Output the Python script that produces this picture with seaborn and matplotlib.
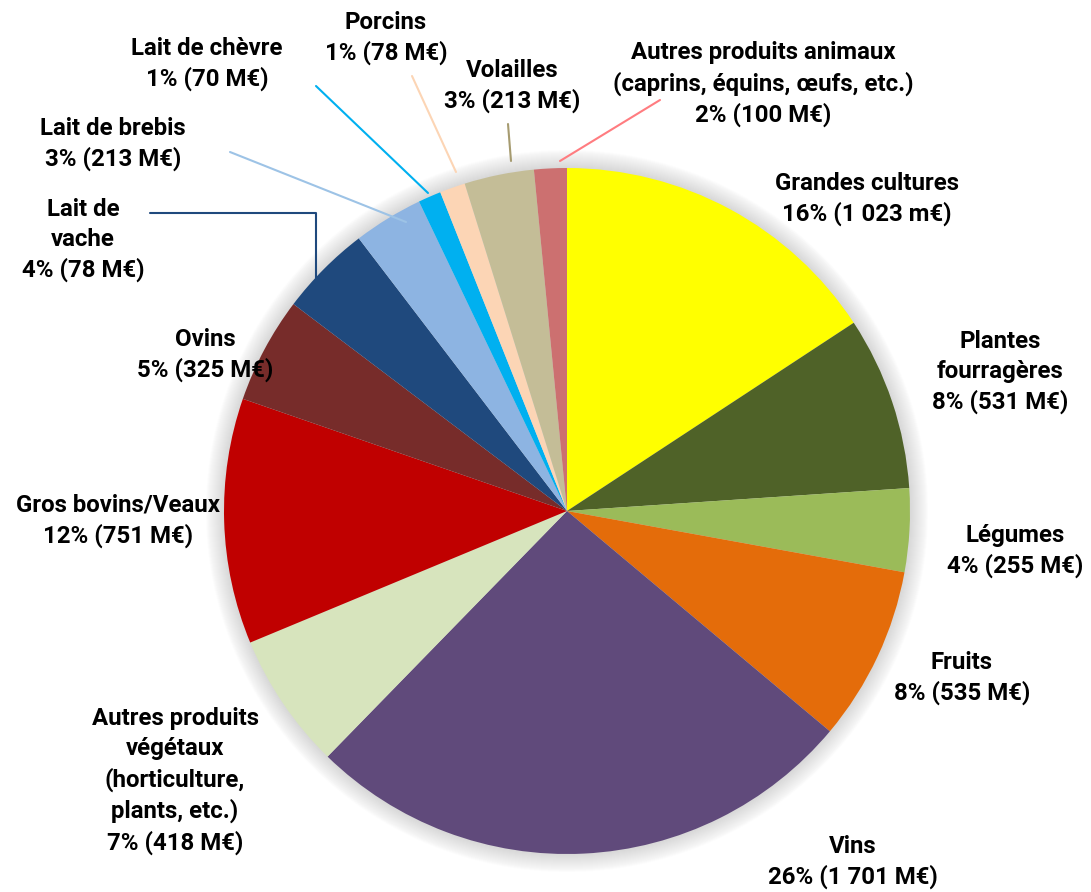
import matplotlib
matplotlib.use('Agg')
import matplotlib.pyplot as plt
from matplotlib.patches import Circle
import seaborn as sns

# Données : production agricole par filière (M€)
filieres = ['Grandes cultures', 'Plantes fourragères', 'Légumes', 'Fruits', 'Vins',
            'Autres produits végétaux', 'Gros bovins/Veaux', 'Ovins', 'Lait de vache',
            'Lait de brebis', 'Lait de chèvre', 'Porcins', 'Volailles',
            'Autres produits animaux']
valeurs = [1023, 531, 255, 535, 1701, 418, 751, 325, 280, 213, 70, 78, 213, 100]
etiquettes = [
    'Grandes cultures\n16% (1 023 m€)',
    'Plantes\nfourragères\n8% (531 M€)',
    'Légumes\n4% (255 M€)',
    'Fruits\n8% (535 M€)',
    'Vins\n26% (1 701 M€)',
    'Autres produits\nvégétaux\n(horticulture,\nplants, etc.)\n7% (418 M€)',
    'Gros bovins/Veaux\n12% (751 M€)',
    'Ovins\n5% (325 M€)',
    'Lait de\nvache\n4% (78 M€)',
    'Lait de brebis\n3% (213 M€)',
    'Lait de chèvre\n1% (70 M€)',
    'Porcins\n1% (78 M€)',
    'Volailles\n3% (213 M€)',
    'Autres produits animaux\n(caprins, équins, œufs, etc.)\n2% (100 M€)',
]
couleurs = ['#FFFF00', '#4F6228', '#9BBB59', '#E46C0A', '#604A7B', '#D7E4BD', '#C00000',
            '#772C2A', '#1F497D', '#8DB4E2', '#00B0F0', '#FCD5B5', '#C4BD97', '#CC7070']

# position des étiquettes (pixels depuis le haut)
pos_etiquettes = [(867, 199), (1000, 372), (1015, 551), (962, 678), (853, 862),
                  (175, 781), (118, 521), (205, 355), (83, 240), (113, 144),
                  (207, 64), (386, 38), (512, 86), (763, 84)]

# lignes de rappel
rappels = {
    'Lait de vache': ([150, 316, 316], [213, 213, 280], '#1F497D'),
    'Lait de brebis': ([230, 406], [152, 222], '#9DC3E6'),
    'Lait de chèvre': ([316, 428], [86, 193], '#00B0F0'),
    'Porcins': ([412, 456], [76, 172], '#FCD5B5'),
    'Volailles': ([508, 511], [124, 161], '#A69B70'),
    'Autres produits animaux': ([660, 560], [100, 161], '#FF7C80'),
}

sns.set_theme(style='white')
plt.rcParams['font.family'] = ['Roboto', 'DejaVu Sans']

W, H = 1091, 892
fig = plt.figure(figsize=(W / 100, H / 100), dpi=100)
ax = fig.add_axes([0, 0, 1, 1])

cx, cy, r = 567, H - 511, 343

# halo gris autour du camembert
for i in range(18, 0, -1):
    ax.add_patch(Circle((cx, cy), r + i, color='#B8B8B8', alpha=0.03, lw=0, zorder=0))

ax.pie(valeurs, colors=sns.color_palette(couleurs), startangle=90, counterclock=False,
       center=(cx, cy), radius=r, wedgeprops={'linewidth': 0})

for txt, (x, y) in zip(etiquettes, pos_etiquettes):
    ax.text(x, H - y, txt, ha='center', va='center', fontsize=17.3, fontweight='bold',
            color='#000000', linespacing=1.38)

for nom, (xs, ys, c) in rappels.items():
    ax.plot(xs, [H - v for v in ys], color=c, lw=1.5, zorder=1)

ax.set_xlim(0, W)
ax.set_ylim(0, H)
ax.set_aspect('auto')
ax.axis('off')

fig.savefig('out.png', dpi=100)
